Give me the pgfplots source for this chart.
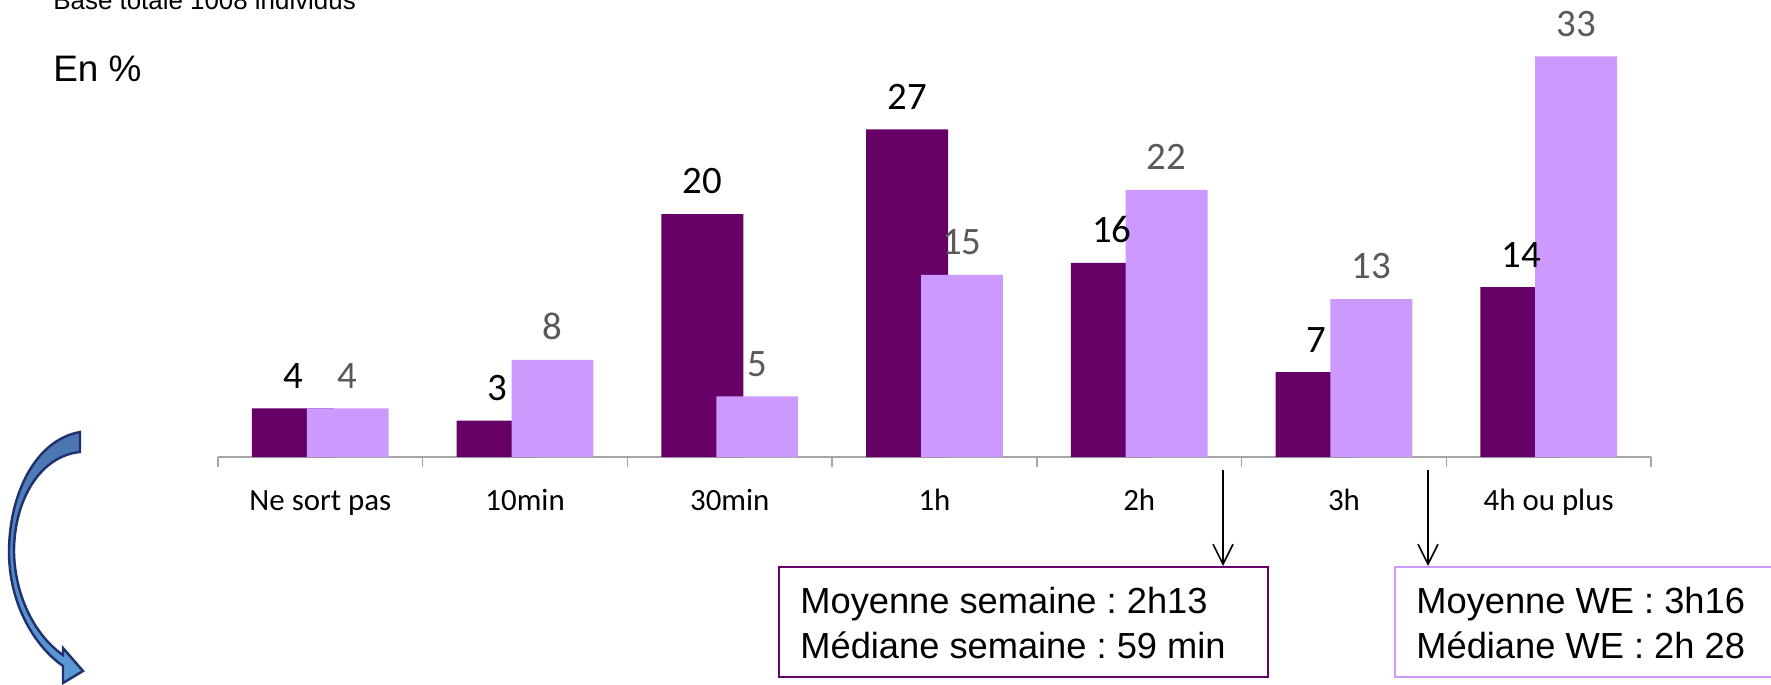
\documentclass[border=0pt]{standalone}
\usepackage{fontspec}
\setmainfont{Liberation Sans}
\newfontfamily\calibri{Carlito}
\usepackage{pgfplots}
\pgfplotsset{compat=1.18}
\usetikzlibrary{arrows.meta}
\definecolor{dark}{HTML}{660066}
\definecolor{light}{HTML}{CC99FF}
\definecolor{lblgray}{HTML}{595959}
\definecolor{axgray}{HTML}{A6A6A6}
\definecolor{arrtop}{HTML}{4A74B0}
\definecolor{arrbot}{HTML}{5B9BD5}
\definecolor{arredge}{HTML}{1F2F70}
\frenchspacing
\begin{document}
\begin{tikzpicture}[x=0.5bp,y=-0.5bp]
\useasboundingbox (0,0) rectangle (1771,685);
\clip (0,0) rectangle (1771,685);
\begin{axis}[
  at={(109bp,-228.5bp)}, anchor=south west, scale only axis,
  width=716.5bp, height=218.5bp,
  xmin=-0.5, xmax=6.5, ymin=0, ymax=36,
  axis y line=none, axis x line*=bottom,
  x axis line style={draw=axgray, line width=1bp},
  xtick={0,...,6},
  xticklabels={Ne sort pas,10min,30min,1h,2h,3h,4h ou plus},
  major tick length=0pt,
  minor xtick={-0.5,0.5,...,6.5},
  minor tick length=5bp, tick align=outside,
  minor tick style={draw=axgray, line width=0.75bp},
  xticklabel style={font=\calibri\fontsize{15.5}{18}\selectfont, anchor=base, yshift=-26.5bp},
  /pgf/number format/assume math mode=true,
  ybar, bar width=0.4,
  nodes near coords,
  every node near coord/.append style={anchor=south, inner sep=0pt, yshift=9.8bp, font=\calibri\fontsize{19.5}{22}\selectfont},
  clip=false,
]
\addplot[fill=dark, draw=none, bar shift=-0.134, every node near coord/.append style={text=black}]
  coordinates {(0,4) (1,3) (2,20) (3,27) (4,16) (5,7) (6,14)};
\addplot[fill=light, draw=none, bar shift=0.134, every node near coord/.append style={text=lblgray}]
  coordinates {(0,4) (1,8) (2,5) (3,15) (4,22) (5,13) (6,33)};
\end{axis}
% titles
\node[anchor=base west, inner sep=0pt, font=\fontsize{13}{15}\selectfont] at (53,10) {Base totale 1008 individus};
\node[anchor=base west, inner sep=0pt, font=\fontsize{18.5}{21}\selectfont] at (53,82) {En \%};
% curved arrow
\path[draw=arredge, line width=1.2bp, top color=arrtop, bottom color=arrbot]
  (80,432) .. controls (35,440) and (9,495) .. (9,552)
  .. controls (9,602) and (33,645) .. (63,666)
  -- (63,683) -- (83,671) -- (63,648) -- (63,655)
  .. controls (38,638) and (15,600) .. (14,552)
  .. controls (14,500) and (40,456) .. (80,452) -- cycle;
% pointer arrows
\draw[line width=0.8bp, -{Straight Barb[length=10bp,width=10bp]}] (1223,470) -- (1223,566);
\draw[line width=0.8bp, -{Straight Barb[length=10bp,width=10bp]}] (1428,470) -- (1428,566);
% boxes
\draw[dark, line width=1bp] (779,567) rectangle (1268,677);
\draw[light, line width=1bp] (1395,567) rectangle (1775,677);
\begin{scope}[every node/.style={anchor=base west, inner sep=0pt, font=\fontsize{18.2}{20}\selectfont}]
\node at (800,613) {Moyenne semaine : 2h13};
\node at (800,658) {Médiane semaine : 59 min};
\node at (1416,613) {Moyenne WE : 3h16};
\node at (1416,658) {Médiane WE : 2h 28};
\end{scope}
\end{tikzpicture}
\end{document}
